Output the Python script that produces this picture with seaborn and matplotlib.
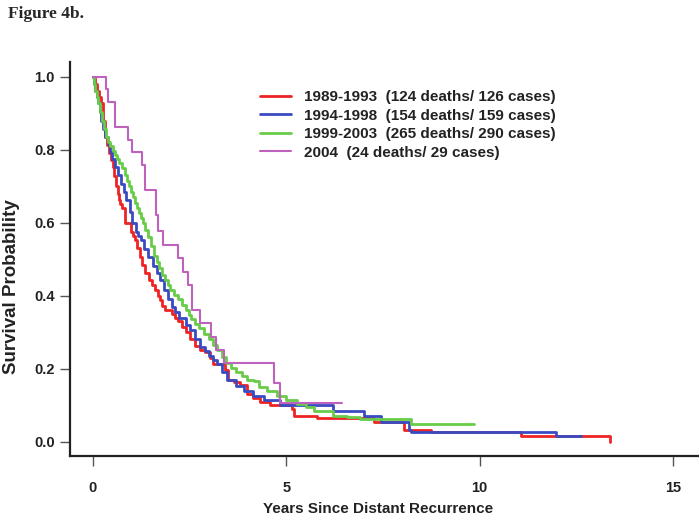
import matplotlib
matplotlib.use("Agg")
import matplotlib.pyplot as plt
import seaborn as sns
import pandas as pd

# ---------------- data ----------------
labels = [
    "1989-1993  (124 deaths/ 126 cases)",
    "1994-1998  (154 deaths/ 159 cases)",
    "1999-2003  (265 deaths/ 290 cases)",
    "2004  (24 deaths/ 29 cases)",
]

red_t = [0.00, 0.05, 0.10, 0.15, 0.20, 0.26, 0.32, 0.37, 0.42, 0.47, 0.52, 0.56, 0.60, 0.64,
         0.67, 0.71, 0.75, 0.84, 0.98, 1.03, 1.09, 1.15, 1.22, 1.28, 1.35, 1.44, 1.52, 1.61,
         1.68, 1.74, 1.80, 1.87, 2.05, 2.13, 2.20, 2.30, 2.40, 2.52, 2.65, 2.78, 2.91, 3.02,
         3.12, 3.42, 3.50, 3.65, 3.81, 3.99, 4.15, 4.33, 4.59, 5.15, 5.20, 5.80, 7.26, 8.04,
         8.74, 11.07, 13.38]
red_s = [1.000, 0.980, 0.960, 0.945, 0.928, 0.880, 0.836, 0.812, 0.790, 0.772, 0.754, 0.728,
         0.700, 0.680, 0.662, 0.651, 0.640, 0.600, 0.575, 0.563, 0.552, 0.530, 0.506, 0.484,
         0.461, 0.442, 0.428, 0.415, 0.400, 0.387, 0.373, 0.360, 0.350, 0.340, 0.330, 0.315,
         0.300, 0.280, 0.262, 0.252, 0.245, 0.230, 0.213, 0.195, 0.168, 0.162, 0.155, 0.131,
         0.120, 0.108, 0.099, 0.090, 0.071, 0.065, 0.053, 0.033, 0.026, 0.016, 0.000]

blue_t = [0.00, 0.03, 0.06, 0.10, 0.13, 0.18, 0.22, 0.27, 0.31, 0.38, 0.44, 0.50, 0.57, 0.65,
          0.72, 0.80, 0.87, 0.95, 1.01, 1.12, 1.18, 1.25, 1.33, 1.42, 1.55, 1.66, 1.75, 1.83,
          1.94, 2.04, 2.13, 2.22, 2.40, 2.52, 2.65, 2.78, 2.89, 3.00, 3.10, 3.21, 3.34, 3.47,
          3.70, 3.90, 4.15, 4.42, 4.85, 6.22, 7.00, 7.44, 8.17, 8.22, 11.97, 12.62]
blue_s = [1.000, 0.980, 0.960, 0.944, 0.928, 0.904, 0.880, 0.858, 0.836, 0.815, 0.795, 0.775,
          0.754, 0.730, 0.705, 0.684, 0.662, 0.630, 0.598, 0.575, 0.564, 0.552, 0.529, 0.506,
          0.480, 0.461, 0.442, 0.415, 0.392, 0.369, 0.355, 0.340, 0.320, 0.305, 0.282, 0.259,
          0.247, 0.235, 0.224, 0.213, 0.190, 0.168, 0.152, 0.140, 0.126, 0.113, 0.099, 0.085,
          0.071, 0.053, 0.033, 0.026, 0.014, 0.014]

green_t = [0.00, 0.03, 0.06, 0.10, 0.13, 0.18, 0.24, 0.29, 0.34, 0.40, 0.45, 0.51, 0.57, 0.62,
           0.68, 0.75, 0.82, 0.88, 0.94, 1.00, 1.05, 1.10, 1.15, 1.20, 1.25, 1.30, 1.36, 1.42,
           1.50, 1.57, 1.65, 1.72, 1.80, 1.87, 1.94, 2.00, 2.10, 2.20, 2.30, 2.40, 2.48, 2.55,
           2.65, 2.75, 2.88, 3.00, 3.10, 3.20, 3.33, 3.45, 3.58, 3.70, 3.85, 4.00, 4.16, 4.30,
           4.50, 4.76, 5.00, 5.28, 5.50, 5.71, 6.22, 6.58, 6.90, 8.22, 9.85]
green_s = [1.000, 0.980, 0.960, 0.944, 0.928, 0.904, 0.880, 0.858, 0.836, 0.822, 0.810, 0.797,
           0.785, 0.775, 0.765, 0.750, 0.732, 0.715, 0.700, 0.685, 0.670, 0.655, 0.640, 0.626,
           0.612, 0.598, 0.579, 0.560, 0.535, 0.510, 0.492, 0.475, 0.458, 0.442, 0.428, 0.415,
           0.402, 0.390, 0.375, 0.360, 0.347, 0.335, 0.322, 0.310, 0.295, 0.280, 0.265, 0.250,
           0.232, 0.215, 0.202, 0.190, 0.180, 0.170, 0.165, 0.150, 0.140, 0.125, 0.114, 0.103,
           0.094, 0.085, 0.071, 0.067, 0.062, 0.049, 0.049]

purple_t = [0.00, 0.33, 0.40, 0.57, 0.90, 1.02, 1.28, 1.35, 1.63, 1.68, 1.81, 2.19, 2.32, 2.47,
            2.56, 2.78, 3.06, 3.18, 3.38, 4.69, 4.83, 6.45]
purple_s = [1.000, 0.966, 0.931, 0.862, 0.828, 0.793, 0.759, 0.690, 0.621, 0.576, 0.540, 0.503,
            0.465, 0.430, 0.360, 0.324, 0.287, 0.250, 0.215, 0.160, 0.107, 0.107]

x_ticks = [0, 5, 10, 15]
y_ticks = [0.0, 0.2, 0.4, 0.6, 0.8, 1.0]
y_ticklabels = ["0.0", "0.2", "0.4", "0.6", "0.8", "1.0"]

colors = ["#EE2424", "#3A4BC2", "#68CC48", "#BE62BE"]
widths = [2.0, 2.0, 2.0, 1.5]

# ---------------- figure ----------------
sns.set_style("ticks")
plt.rcParams["font.family"] = ["Liberation Sans", "DejaVu Sans"]

fig = plt.figure(figsize=(6.99, 5.20), dpi=100)
ax = fig.add_axes([70 / 699, 1 - 456 / 520, 628 / 699, 394 / 520])

series = [(red_t, red_s), (blue_t, blue_s), (green_t, green_s), (purple_t, purple_s)]
for (t, s), lab, c, w in zip(series, labels, colors, widths):
    df = pd.DataFrame({"t": t, "s": s})
    sns.lineplot(data=df, x="t", y="s", ax=ax, color=c, linewidth=w,
                 drawstyle="steps-post", label=lab, estimator=None, sort=False)

ax.set_xlim(-0.59, 15.65)
ax.set_ylim(-0.0395, 1.0405)
ax.set_xticks(x_ticks)
ax.set_xticklabels([str(v) for v in x_ticks])
ax.set_yticks(y_ticks)
ax.set_yticklabels(y_ticklabels)

for side in ["top", "right"]:
    ax.spines[side].set_visible(False)
for side in ["left", "bottom"]:
    ax.spines[side].set_color("#222222")
    ax.spines[side].set_linewidth(1.6)

ax.tick_params(axis="both", which="major", direction="out", length=7, width=1.0,
               color="#555555", labelsize=10.5, labelcolor="#222222",
               bottom=True, left=True, top=False, right=False)
ax.tick_params(axis="x", pad=11)
ax.tick_params(axis="y", pad=4)
for lab in ax.get_xticklabels() + ax.get_yticklabels():
    lab.set_fontweight("bold")

ax.set_xlabel("Years Since Distant Recurrence", fontsize=11, fontweight="bold", color="#222222")
ax.set_ylabel("Survival Probability", fontsize=13.5, fontweight="bold", color="#222222")
ax.xaxis.set_label_coords(0.49, -0.117)
ax.yaxis.set_label_coords(-0.079, 0.43)

leg = ax.legend(loc="upper left", bbox_to_anchor=(260 / 699, 1 - 90 / 520),
                bbox_transform=fig.transFigure, frameon=False, borderpad=0,
                borderaxespad=0, handlelength=2.0, handletextpad=0.85,
                labelspacing=0.3, prop={"size": 11, "weight": "bold"})
for txt in leg.get_texts():
    txt.set_color("#222222")

fig.text(8 / 699, 1 - 14 / 520, "Figure 4b.", fontsize=12.5, fontweight="bold",
         family=["Liberation Serif", "DejaVu Serif"], va="center", ha="left")

fig.savefig("out.png", dpi=100)
